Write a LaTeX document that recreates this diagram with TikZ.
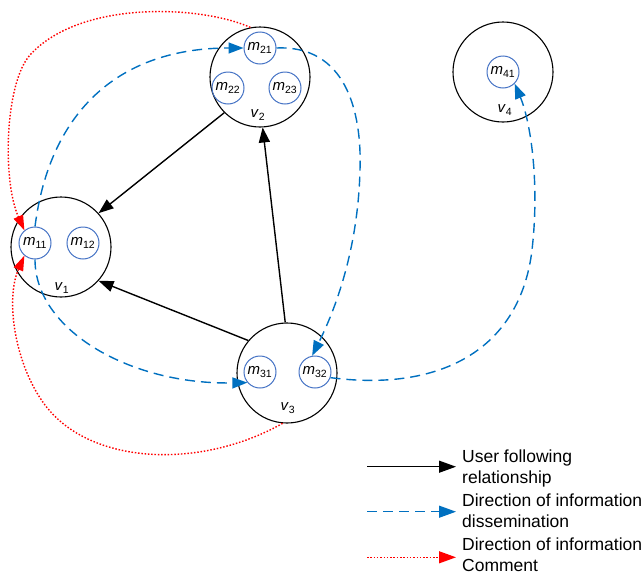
\documentclass[tikz,border=0pt]{standalone}
\usepackage{fontspec}
\setmainfont{Liberation Sans}
\usetikzlibrary{arrows.meta}
\definecolor{flowblue}{RGB}{0,112,192}
\definecolor{msgblue}{RGB}{68,114,196}
\begin{document}
\begin{tikzpicture}[x=1pt,y=-1pt,
  user/.style={circle,draw=black,line width=1.1pt,minimum size=100pt,inner sep=0pt},
  msg/.style={circle,draw=msgblue,line width=1pt,minimum size=32pt,inner sep=0pt,font=\fontsize{15}{17}\selectfont},
  ulabel/.style={font=\fontsize{15}{17}\selectfont,inner sep=0pt},
  follow/.style={draw=black,line width=1.4pt,-{Triangle[length=15pt,width=11pt]}},
  spread/.style={draw=flowblue,line width=1.4pt,dash pattern=on 10pt off 6pt,-{Triangle[length=15pt,width=11pt]}},
  comment/.style={draw=red,line width=1.4pt,dash pattern=on 1.5pt off 1.8pt,-{Triangle[length=15pt,width=10pt]}},
  legtip/.style={line width=1.2pt,-{Triangle[length=17pt,width=12pt]}},
  legtext/.style={anchor=base west,align=left,inner sep=0pt,font=\fontsize{17.5}{20.7}\selectfont}]

\useasboundingbox (0,0) rectangle (643,576);

% users
\node[user] (v1) at (61,247) {};
\node[user] (v2) at (260,77) {};
\node[user] (v3) at (287,373) {};
\node[user] (v4) at (503,72) {};

\node[ulabel] (lv1) at (62,288) {\textit{v}\textsubscript{1}};
\node[ulabel] (lv2) at (258,115) {\textit{v}\textsubscript{2}};
\node[ulabel] (lv3) at (288,408) {\textit{v}\textsubscript{3}};
\node[ulabel] (lv4) at (505,110) {\textit{v}\textsubscript{4}};

% messages
\node[msg] (m11) at (35,243) {\textit{m}\textsubscript{11}};
\node[msg] (m12) at (83,243) {\textit{m}\textsubscript{12}};
\node[msg] (m21) at (260,48) {\textit{m}\textsubscript{21}};
\node[msg] (m22) at (228,88) {\textit{m}\textsubscript{22}};
\node[msg] (m23) at (285,88) {\textit{m}\textsubscript{23}};
\node[msg] (m31) at (260,372) {\textit{m}\textsubscript{31}};
\node[msg] (m32) at (315,372) {\textit{m}\textsubscript{32}};
\node[msg] (m41) at (503,72) {\textit{m}\textsubscript{41}};

% following relationships
\draw[follow] (v2.225) -- (v1.42);
\draw[follow] (v3.92) -- (v2.-87);
\draw[follow] (v3.140) -- (v1.-42);

% information dissemination
\draw[spread] (m11.north) .. controls (50,110) and (120,48) .. (m21.west);
\draw[spread] (m21.east) .. controls (345,45) and (362,110) .. (360,170)
  .. controls (358,250) and (335,310) .. (m32.100);
\draw[spread] (m11.south) .. controls (35,330) and (130,385) .. (m31.220);
\draw[spread] (m32.-20) .. controls (440,392) and (520,350) .. (532,250)
  .. controls (540,180) and (530,120) .. (m41.-45);

% comments
\draw[comment] (v2.101) .. controls (200,5) and (80,0) .. (30,55)
  .. controls (5,83) and (2,180) .. (m11.130);
\draw[comment] (v3.-95) .. controls (200,470) and (90,465) .. (45,405)
  .. controls (15,365) and (5,300) .. (m11.230);

% legend
\coordinate (a1) at (367,466.7);
\coordinate (b1) at (456,466.7);
\coordinate (a2) at (367,511.7);
\coordinate (b2) at (456,511.7);
\coordinate (a3) at (367,557.3);
\coordinate (b3) at (456,557.3);
\draw[follow,legtip] (a1) -- (b1);
\draw[spread,legtip] (a2) -- (b2);
\draw[comment,legtip] (a3) -- (b3);
\node[legtext] (t1) at (462,483.3) {User following\\relationship};
\node[legtext] (t2) at (462,527) {Direction of information\\dissemination};
\node[legtext] (t3) at (462,571) {Direction of information\\Comment};
\end{tikzpicture}
\end{document}
